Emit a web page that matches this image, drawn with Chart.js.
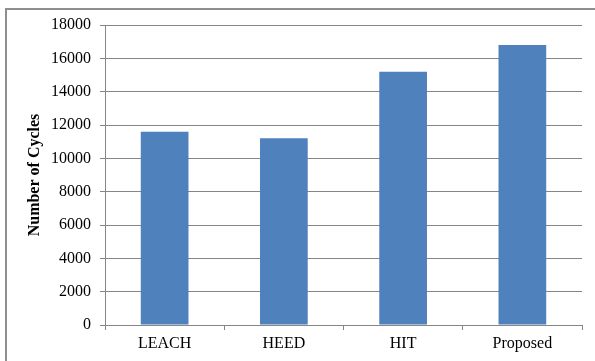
<!DOCTYPE html>
<html>
<head>
<meta charset="utf-8">
<script src="https://cdn.jsdelivr.net/npm/chart.js@4/dist/chart.umd.min.js"></script>
<style>
  html, body { margin: 0; padding: 0; background: #ffffff; }
  #wrap { position: relative; width: 595px; height: 361px; overflow: hidden; }
  #frame {
    position: absolute; left: 5px; top: 8px; width: 600px; height: 360px;
    border-left: 2px solid #8e8e8e; border-top: 2px solid #8e8e8e;
    box-sizing: border-box; pointer-events: none;
  }
  canvas { position: absolute; left: 0; top: 0; }
</style>
</head>
<body>
<div id="wrap">
  <canvas id="chart" width="595" height="361"></canvas>
  <div id="frame"></div>
</div>
<script>
// Protocols compared and their network lifetime
const protocols = ["LEACH", "HEED", "HIT", "Proposed"];
const cycles = [11600, 11200, 15200, 16800];
const yTicks = [0, 2000, 4000, 6000, 8000, 10000, 12000, 14000, 16000, 18000];
const yTitle = "Number of Cycles";

const serif = "'Liberation Serif', 'Times New Roman', serif";
const gridGray = "#868686";

new Chart(document.getElementById("chart"), {
  type: "bar",
  data: {
    labels: protocols,
    datasets: [{
      data: cycles,
      backgroundColor: "#4f81bd",
      borderWidth: 0,
      categoryPercentage: 1.0,
      barPercentage: 0.4
    }]
  },
  options: {
    responsive: false,
    animation: false,
    devicePixelRatio: 1,
    layout: { padding: { top: 25, right: 13, bottom: 0, left: 0 } },
    plugins: { legend: { display: false }, tooltip: { enabled: false } },
    scales: {
      x: {
        afterFit: (s) => { s.height = 36; },
        grid: {
          offset: true,
          drawOnChartArea: false,
          drawTicks: true,
          tickLength: 5,
          color: gridGray
        },
        border: { display: true, color: gridGray, width: 1 },
        ticks: { color: "#000", padding: 4, font: { family: serif, size: 16 } }
      },
      y: {
        min: 0,
        max: 18000,
        afterFit: (s) => { s.width = 105; },
        afterBuildTicks: (s) => { s.ticks = yTicks.map(v => ({ value: v })); },
        grid: { color: gridGray, tickLength: 5, drawTicks: true },
        border: { display: true, color: gridGray, width: 1 },
        ticks: {
          color: "#000",
          padding: 9,
          font: { family: serif, size: 16 },
          callback: (v) => String(v)
        },
        title: {
          display: true,
          text: yTitle,
          color: "#000",
          padding: { top: 25, bottom: 0 },
          font: { family: serif, size: 16, weight: "bold" }
        }
      }
    }
  }
});
</script>
</body>
</html>
